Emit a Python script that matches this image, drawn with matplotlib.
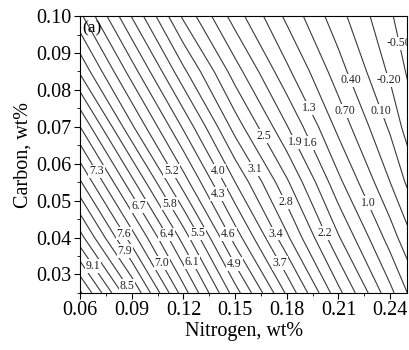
import matplotlib
matplotlib.use("Agg")
import matplotlib.pyplot as plt
from matplotlib.ticker import MultipleLocator, FormatStrFormatter
import numpy as np

plt.rcParams.update({
    'font.family': ['Liberation Serif', 'DejaVu Serif'],
    'font.size': 12,
    'axes.linewidth': 0.8,
})

# ── Data (values on a coarse grid) ────────────────────────────────
NITROGEN = [0.06, 0.09, 0.12, 0.15, 0.18, 0.21, 0.24, 0.25]
CARBON = [0.025, 0.04, 0.055, 0.07, 0.085, 0.10]

Z_C025 = [10.05, 8.50, 6.84, 5.34, 3.95, 2.59, 1.39, 1.00]
Z_C040 = [8.91, 7.44, 5.97, 4.47, 3.16, 1.93, 0.86, 0.50]
Z_C055 = [7.94, 6.49, 5.05, 3.70, 2.55, 1.38, 0.40, 0.05]
Z_C070 = [7.00, 5.55, 4.25, 2.97, 1.92, 0.91, 0.05, -0.33]
Z_C085 = [6.05, 4.75, 3.47, 2.34, 1.37, 0.53, -0.26, -0.53]
Z_C100 = [5.27, 3.98, 2.74, 1.75, 0.93, 0.21, -0.46, -0.68]

LEVELS = [round(-0.8 + 0.3 * i, 2) for i in range(38)]

# labelled contours and where their labels sit (nitrogen, carbon)
LABEL_LEVELS = [9.1, 8.5, 7.9, 7.6, 7.0, 6.7, 6.4, 6.1, 7.3, 5.2, 5.8, 5.5,
                4.9, 4.6, 4.3, 4.0, 3.7, 3.4, 2.8, 3.1, 2.5, 1.9, 1.6, 1.3,
                2.2, 1.0, 0.7, 0.4, 0.1, -0.2, -0.5]
LABEL_N = [0.0698, 0.0877, 0.0865, 0.0854, 0.1073, 0.0963, 0.111, 0.1235,
           0.0698, 0.113, 0.112, 0.1275, 0.150, 0.146, 0.141, 0.140, 0.1754,
           0.173, 0.1777, 0.159, 0.1667, 0.185, 0.1955, 0.193, 0.2014, 0.227,
           0.214, 0.217, 0.2355, 0.239, 0.2455]
LABEL_C = [0.0330, 0.0270, 0.0365, 0.0411, 0.0330, 0.0493, 0.0411, 0.0330,
           0.0580, 0.0580, 0.0493, 0.0410, 0.0330, 0.0410, 0.0520, 0.0580,
           0.0330, 0.0410, 0.0493, 0.0580, 0.0676, 0.0660, 0.0660, 0.0750,
           0.0410, 0.0493, 0.0744, 0.0826, 0.0744, 0.0826, 0.0926]


def fmt(v):
    if abs(v) < 1:
        return f"{v:.2f}"
    return f"{v:.1f}"


def snap_to_level(cs, ax, level, n, c):
    """Closest point (display coords) on the given level's contour."""
    i = int(np.argmin([abs(l - level) for l in cs.levels]))
    p = ax.transData.transform((n, c))
    best, best_d = None, np.inf
    for seg in cs.allsegs[i]:
        if len(seg) < 2:
            continue
        s = ax.transData.transform(seg)
        a, b = s[:-1], s[1:]
        ab = b - a
        t = np.clip(np.sum((p - a) * ab, axis=1) / np.maximum(np.sum(ab * ab, axis=1), 1e-12), 0, 1)
        q = a + ab * t[:, None]
        d = np.sum((q - p) ** 2, axis=1)
        k = int(np.argmin(d))
        if d[k] < best_d:
            best_d, best = d[k], q[k]
    return ax.transData.inverted().transform(best)


Z = np.array([Z_C025, Z_C040, Z_C055, Z_C070, Z_C085, Z_C100])

fig = plt.figure(figsize=(4.09, 3.5), dpi=100)
ax = fig.add_axes([0.196, 0.163, 0.8, 0.791])

ax.set_xlim(0.06, 0.25)
ax.set_ylim(0.025, 0.10)

cs = ax.contour(NITROGEN, CARBON, Z, levels=LEVELS, colors="#3a3a3a",
                linewidths=0.8, negative_linestyles="solid")

manual = [tuple(snap_to_level(cs, ax, lev, n, c))
          for lev, n, c in zip(LABEL_LEVELS, LABEL_N, LABEL_C)]
cs.clabel(manual=manual, inline=False, fontsize=8.5, fmt=fmt,
          colors="#222222")
for t in cs.labelTexts:
    t.set_rotation(0)
    t.set_clip_on(True)
    t.set_clip_box(ax.bbox)
    t.set_bbox(dict(facecolor="white", edgecolor="none", pad=0.6))

ax.text(0.006, 0.985, "(a)", transform=ax.transAxes, fontsize=12.5,
        va="top", ha="left")

ax.xaxis.set_major_locator(MultipleLocator(0.03))
ax.xaxis.set_minor_locator(MultipleLocator(0.015))
ax.yaxis.set_major_locator(MultipleLocator(0.01))
ax.yaxis.set_minor_locator(MultipleLocator(0.005))
ax.xaxis.set_major_formatter(FormatStrFormatter("%.2f"))
ax.yaxis.set_major_formatter(FormatStrFormatter("%.2f"))
ax.tick_params(which="major", direction="out", length=4.5, width=0.8,
               labelsize=14.5, pad=1.5)
ax.tick_params(which="minor", direction="out", length=2.5, width=0.6)

ax.set_xlabel("Nitrogen, wt%", fontsize=14.5, labelpad=1)
ax.set_ylabel("Carbon, wt%", fontsize=14.5, labelpad=3)

fig.savefig("out.png", dpi=100)
